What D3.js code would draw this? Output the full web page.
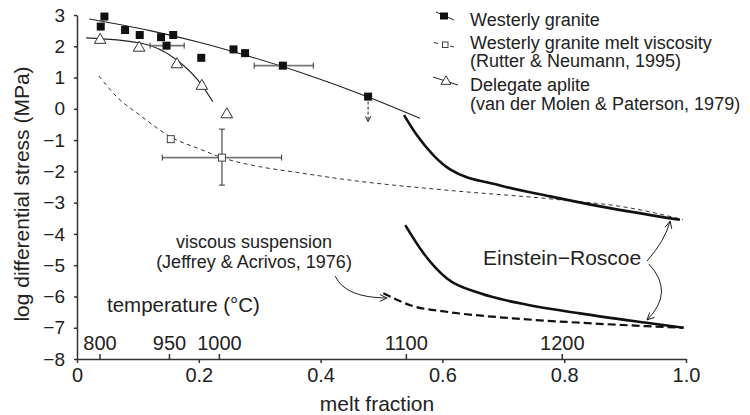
<!DOCTYPE html>
<html>
<head>
<meta charset="utf-8">
<script src="https://cdn.jsdelivr.net/npm/d3@7/dist/d3.min.js"></script>
<style>
  body { margin: 0; background: #fff; }
  svg { display: block; font-family: "Liberation Sans", Arial, Helvetica, sans-serif; }
</style>
</head>
<body>
<script>
// Westerly granite (filled squares)
var westerlyX = [0.045, 0.039, 0.079, 0.103, 0.138, 0.158, 0.147, 0.204, 0.257, 0.276, 0.338, 0.478];
var westerlyY = [2.95, 2.63, 2.52, 2.36, 2.29, 2.36, 2.02, 1.63, 1.90, 1.78, 1.38, 0.39];
var westerlyErrLo = [null, null, null, null, null, null, 0.120, null, null, null, 0.291, null];
var westerlyErrHi = [null, null, null, null, null, null, 0.176, null, null, null, 0.388, null];
var westerlyFitX = [0.020, 0.120, 0.202, 0.284, 0.366, 0.478, 0.563];
var westerlyFitY = [2.87, 2.50, 2.12, 1.67, 1.17, 0.38, -0.30];
var upperBoundTo = -0.41; // dashed arrow under the last point

// Westerly granite melt viscosity (open squares)
var meltX = [0.154, 0.238];
var meltY = [-0.97, -1.56];
var meltErrX = [null, [0.140, 0.336]];
var meltErrY = [null, [-0.65, -2.44]];
var meltFitX = [0.036, 0.065, 0.103, 0.154, 0.202, 0.238, 0.300, 0.360, 0.448, 0.612, 0.777, 0.908, 0.995];
var meltFitY = [1.05, 0.39, -0.20, -0.90, -1.29, -1.56, -1.85, -2.03, -2.28, -2.61, -2.88, -3.17, -3.54];

// Delegate aplite (open triangles)
var apliteX = [0.038, 0.102, 0.164, 0.205, 0.246];
var apliteY = [2.20, 1.95, 1.42, 0.73, -0.18];
var apliteFitX = [0.015, 0.102, 0.164, 0.205, 0.223];
var apliteFitY = [2.27, 2.11, 1.56, 0.76, 0.23];

// Einstein-Roscoe curves and viscous suspension
var erHighX = [0.537, 0.558, 0.585, 0.612, 0.695, 0.777, 0.859, 0.990];
var erHighY = [-0.20, -0.84, -1.48, -1.93, -2.45, -2.80, -3.12, -3.55];
var erLowX = [0.539, 0.569, 0.607, 0.662, 0.727, 0.826, 0.935, 0.996];
var erLowY = [-3.72, -4.62, -5.42, -5.90, -6.22, -6.54, -6.84, -7.00];
var viscX = [0.503, 0.552, 0.607, 0.716, 0.826, 0.935, 0.996];
var viscY = [-5.90, -6.31, -6.49, -6.70, -6.84, -6.95, -7.00];

// axes
var xTicks = [0, 0.2, 0.4, 0.6, 0.8, 1.0];
var yTicks = [-8, -7, -6, -5, -4, -3, -2, -1, 0, 1, 2, 3];
var tempLabels = ["800", "950", "1000", "1100", "1200"];
var tempFrac = [0.037, 0.151, 0.233, 0.540, 0.796];

// annotation arrows: start, control, end (data units)
var erArrowUp = [[0.936, -4.87], [0.966, -4.20], [0.974, -3.59]];
var erArrowDown = [[0.939, -4.96], [0.982, -5.86], [0.936, -6.75]];
var viscArrow = [[0.424, -5.35], [0.440, -6.04], [0.509, -6.05]];

var width = 750, height = 415;

var x = d3.scaleLinear().domain([0, 1]).range([77, 686]);
var y = d3.scaleLinear().domain([-8, 3]).range([359, 15]);

var svg = d3.select("body").append("svg")
    .attr("width", width)
    .attr("height", height);

function zip(xs, ys) {
    return xs.map(function(d, i) { return [d, ys[i]]; });
}

var line = d3.line()
    .x(function(d) { return x(d[0]); })
    .y(function(d) { return y(d[1]); })
    .curve(d3.curveMonotoneX);

// x axis
var xAxis = svg.append("g")
    .attr("transform", "translate(0," + y(-8) + ")")
    .call(d3.axisBottom(x)
        .tickValues(xTicks)
        .tickFormat(function(d) { return d === 0 ? "0" : d3.format(".1f")(d); })
        .tickSizeInner(4)
        .tickSizeOuter(0)
        .tickPadding(5));

// temperature ticks along the same line
var tAxis = svg.append("g")
    .attr("transform", "translate(0," + y(-8) + ")")
    .call(d3.axisTop(x)
        .tickValues(tempFrac)
        .tickFormat(function(d, i) { return tempLabels[i]; })
        .tickSizeInner(5)
        .tickSizeOuter(0)
        .tickPadding(4));
tAxis.select(".domain").remove();

var yAxis = svg.append("g")
    .attr("transform", "translate(" + x(0) + ",0)")
    .call(d3.axisLeft(y)
        .tickValues(yTicks)
        .tickSizeInner(3)
        .tickSizeOuter(0)
        .tickPadding(9));

[xAxis, tAxis, yAxis].forEach(function(g) {
    g.attr("font-family", null).attr("font-size", null);
    g.selectAll("path, line").attr("stroke", "#333").attr("stroke-width", 1.5);
    g.selectAll("text").attr("fill", "#222");
});
xAxis.selectAll("text").style("font-size", "20px");
tAxis.selectAll("text").style("font-size", "20px");
yAxis.selectAll("text").style("font-size", "19px");

svg.append("text")
    .attr("x", 377)
    .attr("y", 411)
    .attr("text-anchor", "middle")
    .style("font-size", "21px")
    .attr("fill", "#222")
    .text("melt fraction");

svg.append("text")
    .attr("transform", "translate(29,194) rotate(-90)")
    .attr("text-anchor", "middle")
    .style("font-size", "21px")
    .attr("fill", "#222")
    .text("log differential stress (MPa)");

svg.append("text")
    .attr("x", 107)
    .attr("y", 312)
    .style("font-size", "20.5px")
    .attr("fill", "#222")
    .text("temperature (\u00B0C)");

// fitted / model curves
svg.append("path")
    .attr("d", line(zip(meltFitX, meltFitY)))
    .attr("fill", "none")
    .attr("stroke", "#333")
    .attr("stroke-width", 1)
    .attr("stroke-dasharray", "4,3.5");

svg.append("path")
    .attr("d", line(zip(westerlyFitX, westerlyFitY)))
    .attr("fill", "none")
    .attr("stroke", "#222")
    .attr("stroke-width", 1.1);

svg.append("path")
    .attr("d", line(zip(apliteFitX, apliteFitY)))
    .attr("fill", "none")
    .attr("stroke", "#222")
    .attr("stroke-width", 1.1);

svg.append("path")
    .attr("d", line(zip(erHighX, erHighY)))
    .attr("fill", "none")
    .attr("stroke", "#111")
    .attr("stroke-width", 2.6);

svg.append("path")
    .attr("d", line(zip(erLowX, erLowY)))
    .attr("fill", "none")
    .attr("stroke", "#111")
    .attr("stroke-width", 2.6);

svg.append("path")
    .attr("d", line(zip(viscX, viscY)))
    .attr("fill", "none")
    .attr("stroke", "#111")
    .attr("stroke-width", 2.2)
    .attr("stroke-dasharray", "8,4");

// error bars
var errColor = "#777";
function hbar(x0, x1, yv) {
    svg.append("line").attr("x1", x(x0)).attr("x2", x(x1)).attr("y1", y(yv)).attr("y2", y(yv))
        .attr("stroke", errColor).attr("stroke-width", 1.6);
    [x0, x1].forEach(function(v) {
        svg.append("line").attr("x1", x(v)).attr("x2", x(v)).attr("y1", y(yv) - 3).attr("y2", y(yv) + 3)
            .attr("stroke", "#333").attr("stroke-width", 1);
    });
}
function vbar(xv, y0, y1) {
    svg.append("line").attr("x1", x(xv)).attr("x2", x(xv)).attr("y1", y(y0)).attr("y2", y(y1))
        .attr("stroke", errColor).attr("stroke-width", 1.6);
    [y0, y1].forEach(function(v) {
        svg.append("line").attr("x1", x(xv) - 3).attr("x2", x(xv) + 3).attr("y1", y(v)).attr("y2", y(v))
            .attr("stroke", "#333").attr("stroke-width", 1);
    });
}
westerlyX.forEach(function(d, i) {
    if (westerlyErrLo[i] !== null) hbar(westerlyErrLo[i], westerlyErrHi[i], westerlyY[i]);
});
meltX.forEach(function(d, i) {
    if (meltErrX[i]) hbar(meltErrX[i][0], meltErrX[i][1], meltY[i]);
    if (meltErrY[i]) vbar(d, meltErrY[i][0], meltErrY[i][1]);
});

// arrows
function arrowHead(tipX, tipY, fromX, fromY, size) {
    var a = Math.atan2(tipY - fromY, tipX - fromX), s = size || 7, w = 0.45;
    svg.append("path")
        .attr("d", "M" + (tipX - s * Math.cos(a - w)) + "," + (tipY - s * Math.sin(a - w)) +
            "L" + tipX + "," + tipY +
            "L" + (tipX - s * Math.cos(a + w)) + "," + (tipY - s * Math.sin(a + w)))
        .attr("fill", "none")
        .attr("stroke", "#222")
        .attr("stroke-width", 1);
}
function curvedArrow(p) {
    svg.append("path")
        .attr("d", "M" + x(p[0][0]) + "," + y(p[0][1]) +
            "Q" + x(p[1][0]) + "," + y(p[1][1]) + " " + x(p[2][0]) + "," + y(p[2][1]))
        .attr("fill", "none")
        .attr("stroke", "#222")
        .attr("stroke-width", 1);
    arrowHead(x(p[2][0]), y(p[2][1]), x(p[1][0]), y(p[1][1]), 8);
}
curvedArrow(erArrowUp);
curvedArrow(erArrowDown);
curvedArrow(viscArrow);

// dashed arrow under the last Westerly point
var lastW = westerlyX.length - 1;
svg.append("line")
    .attr("x1", x(westerlyX[lastW]))
    .attr("x2", x(westerlyX[lastW]))
    .attr("y1", y(westerlyY[lastW]))
    .attr("y2", y(upperBoundTo))
    .attr("stroke", "#222")
    .attr("stroke-width", 1)
    .attr("stroke-dasharray", "3,2");
arrowHead(x(westerlyX[lastW]), y(upperBoundTo), x(westerlyX[lastW]), y(westerlyY[lastW]), 6);

// markers
var tri = d3.symbol().type(d3.symbolTriangle).size(58);
svg.selectAll(".aplite")
    .data(zip(apliteX, apliteY))
    .enter().append("path")
    .attr("class", "aplite")
    .attr("transform", function(d) { return "translate(" + x(d[0]) + "," + y(d[1]) + ")"; })
    .attr("d", tri)
    .attr("fill", "#fff")
    .attr("stroke", "#333")
    .attr("stroke-width", 1);

svg.selectAll(".melt")
    .data(zip(meltX, meltY))
    .enter().append("rect")
    .attr("class", "melt")
    .attr("x", function(d) { return x(d[0]) - 3.5; })
    .attr("y", function(d) { return y(d[1]) - 3.5; })
    .attr("width", 7)
    .attr("height", 7)
    .attr("fill", "#fff")
    .attr("stroke", "#444")
    .attr("stroke-width", 1);

svg.selectAll(".westerly")
    .data(zip(westerlyX, westerlyY))
    .enter().append("rect")
    .attr("class", "westerly")
    .attr("x", function(d) { return x(d[0]) - 4; })
    .attr("y", function(d) { return y(d[1]) - 4; })
    .attr("width", 8)
    .attr("height", 8)
    .attr("fill", "#111");

// legend
var legend = svg.append("g");
legend.append("line").attr("x1", 436).attr("y1", 12).attr("x2", 454).attr("y2", 20)
    .attr("stroke", "#222").attr("stroke-width", 1);
legend.append("rect").attr("x", 440).attr("y", 12.5).attr("width", 8).attr("height", 7).attr("fill", "#111");

legend.append("line").attr("x1", 434).attr("y1", 42.5).attr("x2", 438).attr("y2", 43.5)
    .attr("stroke", "#333").attr("stroke-width", 1);
legend.append("line").attr("x1", 450).attr("y1", 46).attr("x2", 454).attr("y2", 47)
    .attr("stroke", "#333").attr("stroke-width", 1);
legend.append("rect").attr("x", 442.5).attr("y", 42).attr("width", 5.5).attr("height", 5.5)
    .attr("fill", "#fff").attr("stroke", "#444").attr("stroke-width", 1);

legend.append("line").attr("x1", 433).attr("y1", 77).attr("x2", 458).attr("y2", 85)
    .attr("stroke", "#222").attr("stroke-width", 1);
legend.append("path")
    .attr("transform", "translate(446,81.5)")
    .attr("d", d3.symbol().type(d3.symbolTriangle).size(42)())
    .attr("fill", "#fff").attr("stroke", "#333").attr("stroke-width", 1);

var legendLines = [
    ["Westerly granite", 26],
    ["Westerly granite melt viscosity", 48.5],
    ["(Rutter & Neumann, 1995)", 67],
    ["Delegate aplite", 90.5],
    ["(van der Molen & Paterson, 1979)", 110]
];
legend.selectAll("text")
    .data(legendLines)
    .enter().append("text")
    .attr("x", 470)
    .attr("y", function(d) { return d[1]; })
    .style("font-size", "18px")
    .attr("fill", "#222")
    .text(function(d) { return d[0]; });

// annotations
svg.append("text")
    .attr("x", 254).attr("y", 248)
    .attr("text-anchor", "middle")
    .style("font-size", "18px")
    .attr("fill", "#222")
    .text("viscous suspension");
svg.append("text")
    .attr("x", 254).attr("y", 268)
    .attr("text-anchor", "middle")
    .style("font-size", "18px")
    .attr("fill", "#222")
    .text("(Jeffrey & Acrivos, 1976)");

svg.append("text")
    .attr("x", 483).attr("y", 265)
    .style("font-size", "21px")
    .attr("fill", "#222")
    .text("Einstein\u2212Roscoe");
</script>
</body>
</html>
